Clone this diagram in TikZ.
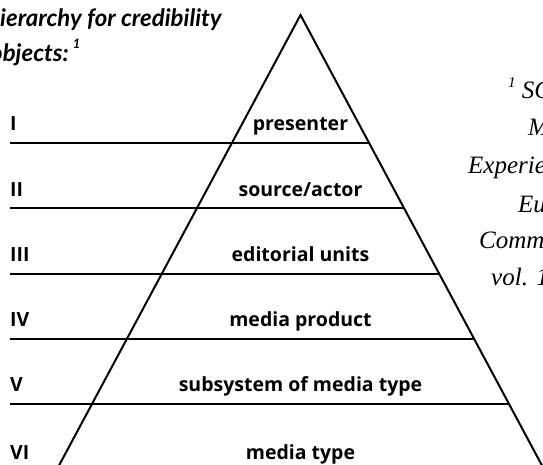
\documentclass[tikz,border=0pt]{standalone}
\usepackage{fontspec}
\setmainfont{Liberation Serif}
\newfontfamily\labelfont{Open Sans}
\newfontfamily\titlefont{Lato}
\begin{document}
\begin{tikzpicture}[x=1pt,y=-1pt,
  rule/.style={line width=2pt, black},
  numlabel/.style={anchor=base west, inner sep=0pt, font=\labelfont\bfseries\fontsize{19.5}{19.5}\selectfont},
  tierlabel/.style={anchor=base, inner sep=0pt, font=\labelfont\bfseries\fontsize{19.5}{19.5}\selectfont},
  titletext/.style={anchor=base west, inner sep=0pt, font=\titlefont\bfseries\itshape\fontsize{24}{24}\selectfont},
  notetext/.style={anchor=base west, inner sep=0pt, font=\itshape\fontsize{25}{25}\selectfont}]
\useasboundingbox (0,0) rectangle (543,465);
\clip (0,0) rectangle (543,465);

% pyramid outline
\coordinate (apex) at (300.5,15);
\coordinate (bl) at (56.6,470);
\coordinate (br) at (544.4,470);
\draw[rule, line join=miter] (bl) -- (apex) -- (br);

% tier separators: from the left margin to the right flank
\coordinate (s1) at (10,143);   \coordinate (e1) at (369.1,143);
\coordinate (s2) at (10,208.3); \coordinate (e2) at (404.1,208.3);
\coordinate (s3) at (10,273.5); \coordinate (e3) at (439.1,273.5);
\coordinate (s4) at (10,338.8); \coordinate (e4) at (474.1,338.8);
\coordinate (s5) at (10,404);   \coordinate (e5) at (509.0,404);
\foreach \i in {1,...,5} \draw[rule] (s\i) -- (e\i);

% level numerals
\node[numlabel] (n1) at (10,131)   {I};
\node[numlabel] (n2) at (10,196.2) {II};
\node[numlabel] (n3) at (10,261.4) {III};
\node[numlabel] (n4) at (10,326.6) {IV};
\node[numlabel] (n5) at (10,391.8) {V};
\node[numlabel] (n6) at (10,459.5) {VI};

% level names
\node[tierlabel] (t1) at (300.5,131)   {presenter};
\node[tierlabel] (t2) at (300.5,196.2) {source/actor};
\node[tierlabel] (t3) at (300.5,261.4) {editorial units};
\node[tierlabel] (t4) at (300.5,326.6) {media product};
\node[tierlabel] (t5) at (300.5,391.8) {subsystem of media type};
\node[tierlabel] (t6) at (300.5,459.5) {media type};

% heading
\node[titletext] (h1) at (0,27) {ierarchy for credibility};
\node[titletext] (h2) at (-10,62) {objects:\,\raisebox{0.55em}{\fontsize{13}{13}\selectfont 1}};

% reference note
\node[notetext] (r1) at (508,99)  {\raisebox{0.45em}{\fontsize{15}{15}\selectfont 1} SC};
\node[notetext] (r2) at (528,136) {M};
\node[notetext] (r3) at (468,174) {Experie};
\node[notetext] (r4) at (518,212) {Eu};
\node[notetext] (r5) at (479,248) {Comm};
\node[notetext] (r6) at (491,285) {vol. 1};
\end{tikzpicture}
\end{document}
